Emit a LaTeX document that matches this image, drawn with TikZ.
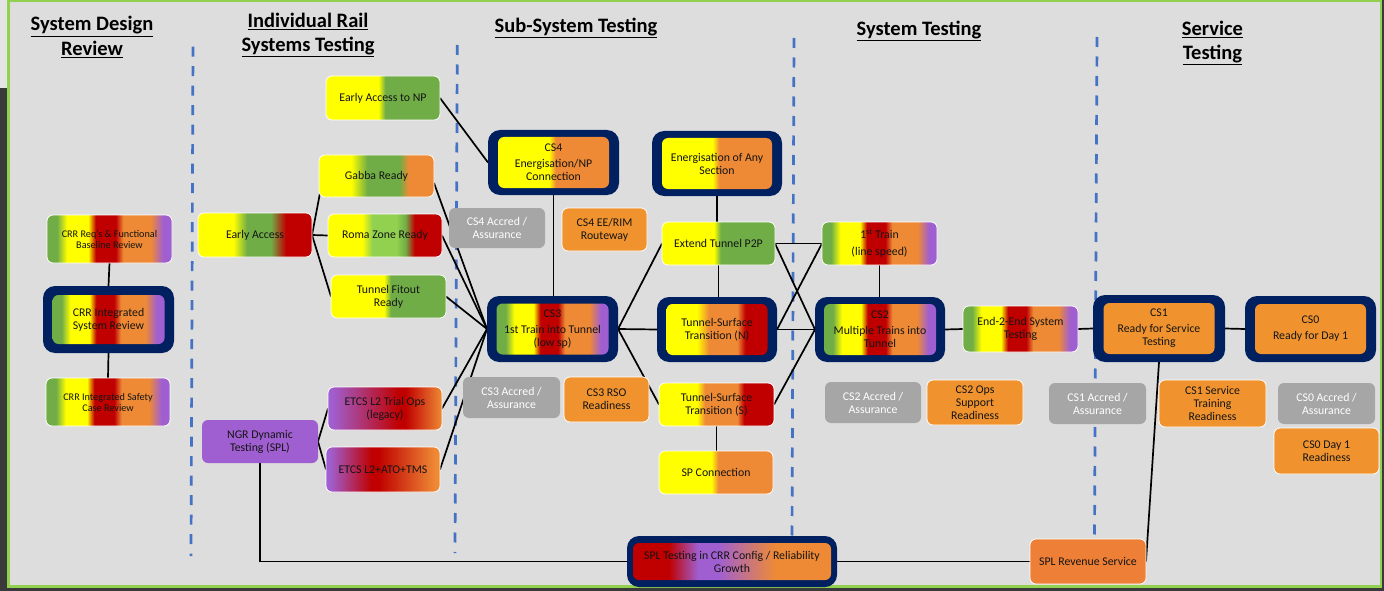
\documentclass[tikz,border=0pt]{standalone}
\usepackage{fontspec}
\setmainfont{Carlito}
\usetikzlibrary{calc}

% palette
\definecolor{cY}{HTML}{FFFF00}
\definecolor{cG}{HTML}{70AD47}
\definecolor{cLG}{HTML}{92D050}
\definecolor{cR}{HTML}{C00000}
\definecolor{cO}{HTML}{EE8A35}
\definecolor{cOs}{HTML}{F0932F}
\definecolor{cOr}{HTML}{EE7F36}
\definecolor{cP}{HTML}{A05FD1}
\definecolor{cGray}{HTML}{A6A6A6}
\definecolor{navy}{HTML}{002060}
\definecolor{panel}{HTML}{DDDDDD}
\definecolor{outerdark}{HTML}{3A3A3A}
\definecolor{edgelight}{HTML}{E4E4E4}
\definecolor{frameGreen}{HTML}{92D050}
\definecolor{divblue}{HTML}{4472C4}
\definecolor{txt}{HTML}{141414}

% horizontal colour ramps (box spans 25bp..75bp)
\pgfdeclarehorizontalshading{fivec}{100bp}{color(0bp)=(cG); color(29bp)=(cG); color(33bp)=(cY); color(41.5bp)=(cY); color(44.5bp)=(cR); color(52.5bp)=(cR); color(55.5bp)=(cO); color(66.5bp)=(cO); color(71.5bp)=(cP); color(100bp)=(cP)}
\pgfdeclarehorizontalshading{yg}{100bp}{color(0bp)=(cY); color(48bp)=(cY); color(51bp)=(cG); color(100bp)=(cG)}
\pgfdeclarehorizontalshading{yo}{100bp}{color(0bp)=(cY); color(48bp)=(cY); color(51bp)=(cO); color(100bp)=(cO)}
\pgfdeclarehorizontalshading{gabbash}{100bp}{color(0bp)=(cY); color(39bp)=(cY); color(46bp)=(cG); color(60bp)=(cG); color(64bp)=(cO); color(100bp)=(cO)}
\pgfdeclarehorizontalshading{eash}{100bp}{color(0bp)=(cY); color(40.5bp)=(cY); color(46.5bp)=(cG); color(57bp)=(cG); color(63.5bp)=(cR); color(100bp)=(cR)}
\pgfdeclarehorizontalshading{romash}{100bp}{color(0bp)=(cY); color(40bp)=(cY); color(44.5bp)=(cLG); color(55bp)=(cLG); color(59bp)=(cG); color(63bp)=(cR); color(100bp)=(cR)}
\pgfdeclarehorizontalshading{etcsash}{100bp}{color(0bp)=(cP); color(26.5bp)=(cP); color(56bp)=(cR); color(59bp)=(cR); color(75bp)=(cO); color(100bp)=(cO)}
\pgfdeclarehorizontalshading{etcsbsh}{100bp}{color(0bp)=(cP); color(26.5bp)=(cP); color(45bp)=(cR); color(48bp)=(cR); color(73bp)=(cO); color(100bp)=(cO)}
\pgfdeclarehorizontalshading{tsnsh}{100bp}{color(0bp)=(cY); color(40bp)=(cY); color(46bp)=(cO); color(60bp)=(cO); color(64bp)=(cR); color(100bp)=(cR)}
\pgfdeclarehorizontalshading{tsssh}{100bp}{color(0bp)=(cY); color(41.5bp)=(cY); color(45bp)=(cO); color(59bp)=(cO); color(62bp)=(cR); color(100bp)=(cR)}
\pgfdeclarehorizontalshading{splsh}{100bp}{color(0bp)=(cR); color(34bp)=(cR); color(41.5bp)=(cP); color(46.5bp)=(cP); color(61bp)=(cO); color(100bp)=(cO)}

\newcommand\nodefont{\fontsize{11.8}{13}\selectfont}
\newcommand\crrfont{\fontsize{10.2}{11}\selectfont}
\newcommand\headfont{\fontsize{20.5}{24.5}\selectfont\bfseries}

\pgfdeclarelayer{back}
\pgfdeclarelayer{edges}
\pgfsetlayers{back,edges,main}

\tikzset{
  every node/.style={inner sep=0pt, outer sep=0pt, align=center, text=txt},
  card/.style={rounded corners=6pt, draw=white, line width=0.8pt, font=\nodefont},
  grad/.style={card, shading=#1},
  orangebox/.style={card, fill=cOs},
  accred/.style={rounded corners=6pt, fill=cGray, text=white, font=\nodefont},
  frame/.style={rounded corners=12pt, fill=navy},
  innerbox/.style={rounded corners=6pt, font=\nodefont},
  head/.style={font=\headfont, text=black},
  link/.style={draw=black, line width=1.7pt},
  divider/.style={draw=divblue, line width=2.7pt, dash pattern=on 10pt off 9.5pt},
  sz/.style 2 args={minimum width=#1pt, minimum height=#2pt}
}

\begin{document}
\begin{tikzpicture}[x=1pt,y=-1pt]
\useasboundingbox (0,0) rectangle (1384,591);

\begin{pgfonlayer}{back}
  \fill[outerdark] (0,0) rectangle (1384,591);
  \fill[edgelight] (0,0) rectangle (8,88);
  \fill[panel] (8,0) rectangle (1381,587);
  \draw[frameGreen, line width=2.5pt] (8.7,0.5) rectangle (1381,586.5);
  % phase dividers
  \draw[divider] (193,46.7) -- (191,556);
  \draw[divider] (457.3,45) -- (455,553);
  \draw[divider] (794,38) -- (792,537);
  \draw[divider] (1097,37) -- (1094.5,537);
\end{pgfonlayer}

% phase headings
\node[head] (h1) at (92,37) {\underline{System Design}\\\underline{Review}};
\node[head] (h2) at (308,35) {\underline{Individual Rail}\\\underline{Systems Testing}};
\node[head] (h3) at (576,28) {\underline{Sub-System Testing}};
\node[head] (h4) at (919,31) {\underline{System Testing}};
\node[head] (h5) at (1212.5,43) {\underline{Service}\\\underline{Testing}};

% system design review
\node[grad=fivec, font=\crrfont, sz={125}{48}] (crrreq) at (109.5,239) {CRR Req’s \& Functional\\Baseline Review};
\node[frame, sz={131}{67}] (crrint) at (108.5,319.5) {};
\node[innerbox, shading=fivec, sz={112}{49}] (crrintin) at (crrint.center) {CRR Integrated\\System Review};
\node[grad=fivec, font=\crrfont, sz={124}{48}] (crrsafe) at (108,402) {CRR Integrated Safety\\Case Review};

% individual rail systems testing
\node[grad=yg, sz={114}{44}] (eanp) at (383,98) {Early Access to NP};
\node[grad=gabbash, sz={115}{42}] (gabba) at (376.5,176) {Gabba Ready};
\node[grad=eash, sz={114}{44}] (ea) at (255,235) {Early Access};
\node[grad=romash, sz={114}{43}] (roma) at (385,235.5) {Roma Zone Ready};
\node[grad=yg, sz={115}{43}] (fitout) at (388.5,296.5) {Tunnel Fitout\\Ready};
\node[grad=etcsash, sz={114}{43}] (etcsa) at (385,408.5) {ETCS L2 Trial Ops\\(legacy)};
\node[rounded corners=6pt, fill=cP, font=\nodefont, sz={116}{43}] (ngr) at (260,441.5) {NGR Dynamic\\Testing (SPL)};
\node[grad=etcsbsh, sz={114}{45}] (etcsb) at (383,469.5) {ETCS L2+ATO+TMS};

% sub-system testing
\node[frame, sz={131}{65}] (cs4) at (553.5,162.5) {};
\node[innerbox, shading=yo, sz={111}{51}] (cs4in) at (cs4.center) {CS4\\[3pt]Energisation/NP\\Connection};
\node[frame, sz={130}{65}] (enany) at (717,163.5) {};
\node[innerbox, shading=yo, sz={110}{51}] (enanyin) at (enany.center) {Energisation of Any\\Section};
\node[accred, sz={96}{40}] (cs4acc) at (497,228) {CS4 Accred /\\Assurance};
\node[orangebox, sz={85}{43}] (cs4ee) at (604.5,229.5) {CS4 EE/RIM\\Routeway};
\node[grad=yg, sz={113}{43}] (ext) at (718.5,243.5) {Extend Tunnel P2P};
\node[frame, sz={131}{66}] (cs3) at (552.5,329) {};
\node[innerbox, shading=fivec, sz={112}{51}] (cs3in) at (cs3.center) {CS3\\[3pt]1st Train into Tunnel\\(low sp)};
\node[frame, sz={120}{65}] (tsn) at (717,329.5) {};
\node[innerbox, shading=tsnsh, sz={101}{51}] (tsnin) at (tsn.center) {Tunnel-Surface\\Transition (N)};
\node[accred, sz={97}{41}] (cs3acc) at (511.5,397.5) {CS3 Accred /\\Assurance};
\node[orangebox, sz={85}{45}] (cs3rso) at (606.5,399.5) {CS3 RSO\\Readiness};
\node[grad=tsssh, sz={115}{43}] (tss) at (716.5,404.5) {Tunnel-Surface\\Transition (S)};
\node[grad=yo, sz={114}{43}] (spc) at (716,472.5) {SP Connection};
\node[frame, sz={210}{51}] (spl) at (732,561.5) {};
\node[innerbox, shading=splsh, sz={198}{37}] (splin) at (spl.center) {SPL Testing in CRR Config / Reliability\\Growth};

% system testing
\node[grad=fivec, sz={115}{43}] (train1) at (879.5,243.5) {1\textsuperscript{st} Train\\[4pt](line speed)};
\node[frame, sz={130}{65}] (cs2) at (880,329.5) {};
\node[innerbox, shading=fivec, sz={112}{51}] (cs2in) at (cs2.center) {CS2\\[3pt]Multiple Trains into\\Tunnel};
\node[grad=fivec, sz={115}{46}] (e2e) at (1020.5,329) {End-2-End System\\Testing};
\node[accred, sz={96}{41}] (cs2acc) at (873,402.5) {CS2 Accred /\\Assurance};
\node[orangebox, sz={96}{45}] (cs2ops) at (975,402.5) {CS2 Ops\\Support\\Readiness};
\node[accred, sz={97}{41}] (cs1acc) at (1097.5,403.5) {CS1 Accred /\\Assurance};

% service testing
\node[frame, sz={132}{67}] (cs1) at (1159,328.5) {};
\node[innerbox, fill=cOs, sz={111}{51}] (cs1in) at (cs1.center) {CS1\\[3pt]Ready for Service\\Testing};
\node[frame, sz={131}{66}] (cs0) at (1310.5,329) {};
\node[innerbox, fill=cOs, sz={111}{50}] (cs0in) at (cs0.center) {CS0\\[3pt]Ready for Day 1};
\node[orangebox, sz={107}{47}] (cs1svc) at (1212.5,403.5) {CS1 Service\\Training\\Readiness};
\node[accred, sz={97}{41}] (cs0acc) at (1326.5,403.5) {CS0 Accred /\\Assurance};
\node[orangebox, sz={105}{46}] (cs0day) at (1326.5,451) {CS0 Day 1\\Readiness};
\node[card, fill=cOr, sz={116}{45}] (splrev) at (1088,561.5) {SPL Revenue Service};

% dependencies
\begin{pgfonlayer}{edges}
  \draw[link] (crrreq.south) -- (crrint.north);
  \draw[link] (crrint.south) -- (crrsafe.north);
  \draw[link] (ea.east) -- ($(gabba.south west)+(1,-4)$);
  \draw[link] (ea.east) -- (roma.west);
  \draw[link] (ea.east) -- (fitout.west);
  \draw[link] (eanp.east) -- (cs4.west);
  \draw[link] ($(gabba.east)+(0,7)$) -- (cs3.west);
  \draw[link] (roma.east) -- (cs3.west);
  \draw[link] (fitout.east) -- (cs3.west);
  \draw[link] (etcsa.east) -- (cs3.west);
  \draw[link] (etcsb.east) -- (cs3.west);
  \draw[link] (ngr.east) -- (etcsa.west);
  \draw[link] (ngr.east) -- (etcsb.west);
  \draw[link] (ngr.south) |- (spl.west);
  \draw[link] (spl.east) -- (spl.east -| splrev.west);
  \draw[link] (splrev.east) -- (cs1.south);
  \draw[link] (cs4.south) -- (cs4.south |- cs3.north);
  \draw[link] (enany.south) -- (enany.south |- ext.north);
  \draw[link] (ext.south) -- (ext.south |- tsn.north);
  \draw[link] (cs3.east) -- (ext.west);
  \draw[link] (cs3.east) -- (tsn.west);
  \draw[link] (cs3.east) -- (tss.west);
  \draw[link] (tss.south) -- (tss.south |- spc.north);
  \draw[link] (ext.east) -- (train1.west);
  \draw[link] (ext.east) -- (cs2.west);
  \draw[link] (tsn.east) -- (train1.west);
  \draw[link] (tsn.east) -- (cs2.west);
  \draw[link] (tss.east) -- (cs2.west);
  \draw[link] (train1.south) -- (train1.south |- cs2.north);
  \draw[link] (cs2.east) -- (e2e.west);
  \draw[link] (e2e.east) -- (cs1.west);
  \draw[link] (cs1.east) -- (cs0.west);
\end{pgfonlayer}
\end{tikzpicture}
\end{document}
